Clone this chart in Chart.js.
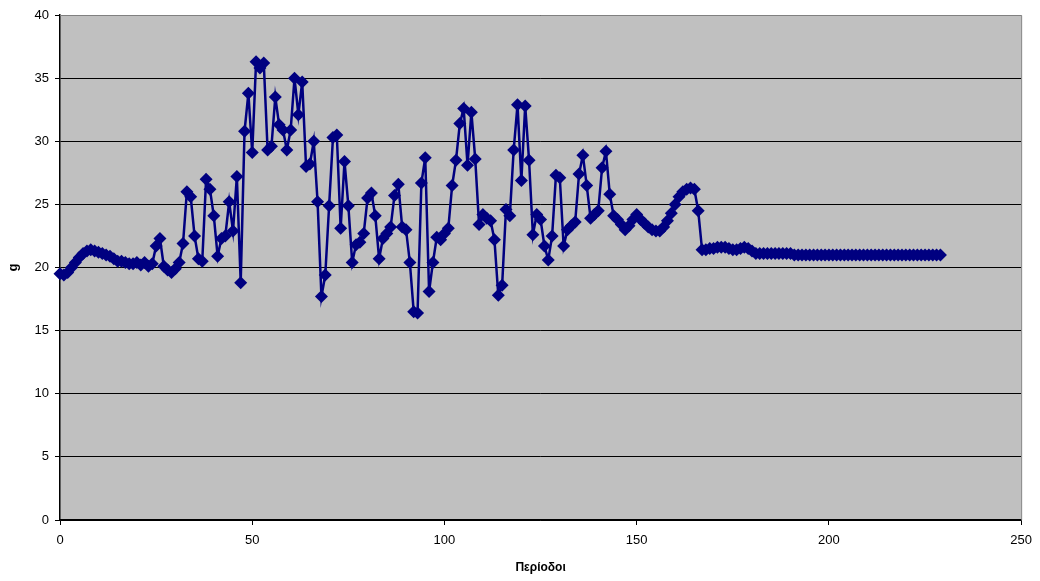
<!DOCTYPE html>
<html>
<head>
<meta charset="utf-8">
<script src="https://cdn.jsdelivr.net/npm/chart.js@4.4.0/dist/chart.umd.min.js"></script>
<style>
  html, body { margin: 0; padding: 0; background: #fff; }
  #wrap { width: 1040px; height: 581px; position: relative; }
</style>
</head>
<body>
<div id="wrap"><canvas id="chart"></canvas></div>
<script>
// τιμές g ανά περίοδο (0..229)
const gValues = [
  19.5, 19.4, 19.6, 20.0, 20.4, 20.8, 21.1, 21.3, 21.4, 21.3, 21.2,
  21.1, 21.0, 20.9, 20.7, 20.5, 20.5, 20.4, 20.3, 20.3, 20.4, 20.2, 20.4, 20.1, 20.3,
  21.7, 22.3, 20.1, 19.8, 19.6, 19.9, 20.4, 21.9,
  26.0, 25.6, 22.5, 20.7, 20.5, 27.0, 26.2, 24.1, 20.9, 22.3, 22.5, 25.2, 22.9, 27.2, 18.8, 30.8, 33.8, 29.1,
  36.3, 35.8, 36.2, 29.3, 29.6, 33.5, 31.3, 30.9, 29.3, 30.9, 35.0, 32.1, 34.7, 28.0, 28.2, 30.0, 25.2, 17.7, 19.4, 24.9,
  30.3, 30.5, 23.1, 28.4, 24.9, 20.4, 21.8, 22.0, 22.7, 25.5, 25.9, 24.1, 20.7, 22.3, 22.7, 23.2, 25.7, 26.6, 23.2, 23.0,
  20.4, 16.5, 16.4, 26.7, 28.7, 18.1, 20.4, 22.4, 22.2, 22.7, 23.1, 26.5, 28.5, 31.4, 32.6, 28.1, 32.3, 28.6, 23.4, 24.2,
  23.9, 23.7, 22.2, 17.8, 18.6, 24.6, 24.1, 29.3, 32.9, 26.9, 32.8, 28.5, 22.6, 24.2, 23.8, 21.7, 20.6, 22.5, 27.3, 27.1,
  21.7, 23.0, 23.3, 23.6, 27.4, 28.9, 26.5, 23.9, 24.2, 24.5, 27.9, 29.2, 25.8, 24.1, 23.8, 23.4, 23.0, 23.3, 23.8, 24.2,
  23.8, 23.5, 23.2, 23.0, 22.9, 22.9, 23.2, 23.7, 24.3, 25.0, 25.6, 26.0, 26.2, 26.3, 26.2, 24.5, 21.4, 21.4, 21.5, 21.5,
  21.6, 21.6, 21.6, 21.5, 21.4, 21.4, 21.5, 21.6, 21.5, 21.3, 21.1, 21.1, 21.1, 21.1, 21.1, 21.1, 21.1, 21.1, 21.1, 21.1,
  21.0, 21.0, 21.0, 21.0, 21.0, 21.0, 21.0, 21.0, 21.0, 21.0,
  21.0, 21.0, 21.0, 21.0, 21.0, 21.0, 21.0, 21.0, 21.0, 21.0,
  21.0, 21.0, 21.0, 21.0, 21.0, 21.0, 21.0, 21.0, 21.0, 21.0,
  21.0, 21.0, 21.0, 21.0, 21.0, 21.0, 21.0, 21.0, 21.0
];
const xTicks = [0, 50, 100, 150, 200, 250];
const yTicks = [0, 5, 10, 15, 20, 25, 30, 35, 40];
const xTitle = 'Περίοδοι';
const yTitle = 'g';

const points = gValues.map((v, i) => ({ x: i, y: v }));

// γκρι φόντο και πλαίσιο της περιοχής σχεδίασης
const plotBg = {
  id: 'plotBg',
  beforeDraw(chart) {
    const { ctx, chartArea: a } = chart;
    ctx.save();
    ctx.fillStyle = '#c0c0c0';
    ctx.fillRect(a.left, a.top, a.right - a.left, a.bottom - a.top);
    ctx.restore();
  },
  afterDatasetsDraw(chart) {
    const { ctx, chartArea: a } = chart;
    ctx.save();
    ctx.strokeStyle = '#808080';
    ctx.lineWidth = 1;
    ctx.beginPath();
    ctx.moveTo(a.left, a.top + 0.5);
    ctx.lineTo(a.right + 0.5, a.top + 0.5);
    ctx.lineTo(a.right + 0.5, a.bottom);
    ctx.stroke();
    ctx.restore();
  }
};

Chart.defaults.font.family = 'Arial, "Liberation Sans", sans-serif';
Chart.defaults.color = '#000';

new Chart(document.getElementById('chart'), {
  type: 'line',
  data: {
    datasets: [{
      data: points,
      borderColor: '#000080',
      backgroundColor: '#000080',
      borderWidth: 2.5,
      pointStyle: 'rectRot',
      pointRadius: 6.5,
      pointBorderWidth: 0,
      tension: 0,
      clip: false
    }]
  },
  options: {
    responsive: true,
    maintainAspectRatio: false,
    animation: false,
    layout: { padding: { top: 15, right: 18, left: 0, bottom: 0 } },
    plugins: { legend: { display: false }, tooltip: { enabled: false } },
    scales: {
      x: {
        type: 'linear',
        min: 0, max: 250,
        afterBuildTicks(axis) { axis.ticks = xTicks.map(v => ({ value: v })); },
        afterFit(axis) { axis.height = 61; },
        ticks: { font: { size: 13 }, padding: 8, maxRotation: 0 },
        grid: { drawOnChartArea: false, drawTicks: true, tickLength: 5, color: '#000' },
        border: { color: '#000', width: 1.5 },
        title: { display: true, text: xTitle, font: { size: 12, weight: 'bold' }, padding: { top: 4, bottom: 6 } }
      },
      y: {
        min: 0, max: 40,
        afterBuildTicks(axis) { axis.ticks = yTicks.map(v => ({ value: v })); },
        afterFit(axis) { axis.width = 60; },
        ticks: { font: { size: 13 }, padding: 6 },
        grid: { color: '#000', lineWidth: 1, tickLength: 5 },
        border: { color: '#000', width: 1.5 },
        title: { display: true, text: yTitle, font: { size: 13, weight: 'bold' }, padding: { top: 6, bottom: 0 } }
      }
    }
  },
  plugins: [plotBg]
});
</script>
</body>
</html>
